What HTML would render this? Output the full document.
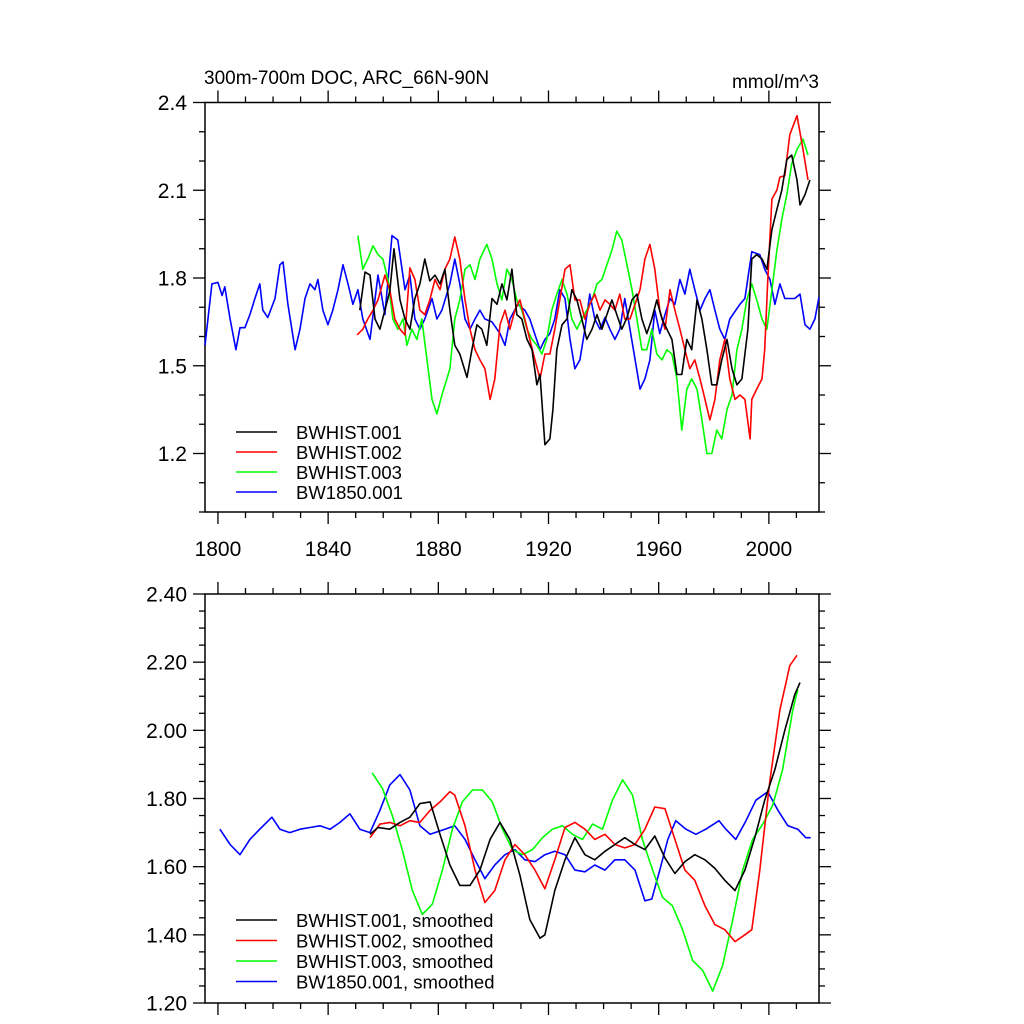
<!DOCTYPE html>
<html><head><meta charset="utf-8"><style>
html,body{margin:0;padding:0;background:#fff;}
svg{display:block;font-family:"Liberation Sans",sans-serif;}
</style></head><body>
<svg id="chart" width="1024" height="1024" viewBox="0 0 1024 1024"></svg>
<script>
// ---- data: top panel (raw annual) ----
const blueYears=[1795.3,1797.8,1800,1801.5,1802.5,1804.4,1806.5,1808,1809.8,1811.6,1813.4,1815.2,1816.3,1818.1,1820.7,1822.5,1823.6,1825.4,1828,1829.8,1831.6,1833.4,1835.2,1836.3,1838.1,1839.9,1841.7,1843.6,1845.4,1847.2,1849,1850.8,1852.6,1855.2,1858.1,1860.6,1863.2,1865.3,1867.9,1869.7,1871.5,1873.3,1875.1,1877.7,1879.5,1881.3,1884.2,1886,1887.8,1889.7,1891.5,1893.3,1895.1,1896.9,1899.5,1902.4,1904.2,1906,1908.9,1911.4,1913.2,1916.9,1918.7,1920.5,1922.3,1924.1,1926,1927.8,1929.6,1931.4,1933.2,1935,1936.8,1938.7,1940.5,1942.3,1944.1,1945.9,1947.7,1949.6,1953.2,1955,1956.8,1958.6,1960.4,1962.3,1964.1,1965.9,1967.7,1969.5,1971.3,1973.1,1975,1976.8,1978.6,1980.4,1982.2,1984,1985.8,1989.5,1991.3,1993.8,1996.7,1998.5,2000.4,2002.2,2004,2005.8,2007.6,2009.4,2011.3,2013.1,2014.9,2016.7,2018.2];
const blueVals=[1.57,1.78,1.785,1.74,1.77,1.66,1.555,1.63,1.63,1.675,1.73,1.78,1.69,1.665,1.73,1.845,1.855,1.71,1.555,1.625,1.73,1.78,1.76,1.795,1.69,1.64,1.69,1.76,1.845,1.78,1.71,1.76,1.66,1.59,1.81,1.675,1.945,1.93,1.76,1.81,1.66,1.625,1.66,1.73,1.66,1.69,1.78,1.865,1.78,1.66,1.625,1.66,1.69,1.66,1.65,1.61,1.57,1.66,1.71,1.69,1.66,1.555,1.59,1.61,1.66,1.76,1.73,1.59,1.49,1.52,1.625,1.745,1.66,1.625,1.665,1.625,1.59,1.625,1.73,1.625,1.42,1.455,1.52,1.69,1.61,1.675,1.73,1.71,1.795,1.745,1.83,1.76,1.69,1.73,1.76,1.69,1.625,1.59,1.66,1.71,1.73,1.89,1.88,1.83,1.795,1.71,1.78,1.73,1.73,1.73,1.745,1.64,1.625,1.66,1.735];
const blackYears=[1851.5,1853.4,1855.2,1857,1858.8,1860.6,1862.4,1863.9,1866.1,1867.9,1869.7,1871.5,1873.3,1875.1,1876.9,1878.8,1880.6,1882.4,1884.2,1886,1887.8,1890.4,1892.2,1894,1895.8,1897.6,1899.5,1901.3,1903.1,1904.9,1906.7,1908.5,1910.3,1912.2,1914,1915.8,1916.9,1918.7,1920.5,1921.6,1923,1924.9,1926.7,1928.5,1930.3,1932.1,1933.9,1935.8,1937.6,1939.4,1941.2,1943,1944.8,1946.6,1948.5,1950.3,1952.1,1953.9,1955.7,1957.5,1959.3,1961.2,1963,1964.8,1966.6,1968.4,1970.2,1972,1973.9,1975.7,1977.5,1979.3,1981.1,1982.9,1984.8,1986.6,1988.4,1990.2,1992.4,1993.8,1995.6,1997.5,1999.3,2001.1,2002.9,2004.7,2006.5,2008.3,2010.2,2011.3,2013.1,2014.9];
const blackVals=[1.69,1.82,1.81,1.66,1.625,1.69,1.755,1.90,1.725,1.66,1.625,1.73,1.78,1.865,1.79,1.81,1.78,1.83,1.69,1.57,1.54,1.46,1.555,1.64,1.625,1.57,1.73,1.71,1.78,1.725,1.83,1.675,1.66,1.59,1.555,1.435,1.47,1.23,1.25,1.35,1.555,1.64,1.66,1.76,1.725,1.66,1.59,1.625,1.675,1.625,1.675,1.725,1.675,1.625,1.665,1.725,1.745,1.66,1.61,1.66,1.725,1.66,1.625,1.59,1.47,1.47,1.59,1.555,1.725,1.66,1.555,1.435,1.435,1.52,1.59,1.49,1.435,1.455,1.625,1.865,1.88,1.865,1.83,1.965,2.035,2.10,2.205,2.22,2.135,2.05,2.085,2.135];
const redYears=[1850.5,1852.6,1854.4,1856.3,1858.1,1860.6,1862.4,1864.2,1866.1,1867.9,1869.7,1871.5,1873.3,1875.1,1876.9,1878.8,1880.6,1882.4,1884.2,1886,1887.8,1889.7,1891.5,1893.3,1895.1,1896.9,1898.8,1900.5,1902.4,1904.2,1906,1907.8,1909.6,1911.4,1913.2,1915.1,1916.9,1918.7,1920.5,1922.3,1924.1,1926,1927.8,1929.6,1931.4,1933.2,1935,1936.8,1938.7,1940.5,1942.3,1944.1,1945.9,1947.7,1949.6,1953.2,1955,1956.8,1958.6,1960.4,1962.3,1964.1,1965.9,1967.7,1969.5,1971.3,1973.1,1975,1976.8,1978.6,1980.4,1982.2,1984,1985.8,1987.7,1989.5,1991.3,1993.2,1993.8,1995.6,1997.5,1998.5,1999.6,2001.1,2002.9,2004,2005.8,2007.6,2010.2,2012.4,2014.2];
const redVals=[1.605,1.625,1.66,1.69,1.725,1.81,1.76,1.66,1.625,1.605,1.835,1.795,1.69,1.675,1.725,1.795,1.76,1.83,1.865,1.94,1.865,1.725,1.625,1.555,1.52,1.49,1.385,1.455,1.64,1.69,1.625,1.69,1.725,1.66,1.59,1.52,1.455,1.54,1.54,1.625,1.725,1.83,1.845,1.725,1.725,1.66,1.71,1.745,1.69,1.725,1.71,1.69,1.745,1.66,1.66,1.76,1.865,1.915,1.83,1.69,1.625,1.76,1.69,1.625,1.555,1.49,1.52,1.455,1.385,1.315,1.385,1.52,1.59,1.455,1.385,1.40,1.385,1.25,1.385,1.42,1.455,1.555,1.795,2.07,2.10,2.145,2.15,2.29,2.355,2.24,2.135];
const greenYears=[1850.8,1852.6,1854.4,1856.3,1858.1,1859.9,1861.7,1863.5,1865.3,1867.2,1868.6,1870.4,1872.2,1874,1875.9,1877.7,1879.5,1881.3,1883.1,1884.2,1886,1887.8,1889.7,1891.5,1893.3,1895.1,1897.6,1899.5,1901.3,1903.1,1904.9,1906.7,1908.5,1910.3,1912.2,1914,1915.8,1917.6,1919.4,1921.2,1923,1924.9,1926.7,1928.5,1930.3,1932.1,1933.9,1935.8,1937.6,1939.4,1941.2,1943,1944.8,1946.6,1948.5,1950.3,1952.1,1953.9,1955.7,1957.5,1959.3,1961.2,1963,1964.8,1966.6,1968.4,1970.2,1972,1973.9,1975.7,1977.5,1979.3,1981.1,1982.9,1984.8,1986.6,1988.4,1990.2,1992,1993.8,1995.6,1997.5,1999.3,2001.1,2002.9,2004.7,2006.5,2008.3,2010.2,2012.4,2014.2];
const greenVals=[1.945,1.83,1.865,1.91,1.88,1.865,1.795,1.66,1.625,1.66,1.57,1.625,1.59,1.66,1.52,1.385,1.335,1.40,1.455,1.49,1.66,1.725,1.83,1.845,1.795,1.865,1.915,1.865,1.78,1.725,1.83,1.795,1.725,1.69,1.625,1.59,1.57,1.54,1.59,1.69,1.745,1.795,1.745,1.66,1.625,1.66,1.69,1.725,1.78,1.795,1.845,1.895,1.96,1.93,1.845,1.76,1.66,1.555,1.555,1.625,1.54,1.52,1.555,1.54,1.455,1.28,1.42,1.455,1.42,1.315,1.20,1.20,1.28,1.25,1.35,1.40,1.555,1.625,1.725,1.78,1.725,1.66,1.625,1.76,1.895,2.0,2.085,2.19,2.24,2.275,2.22];
// ---- data: bottom panel (smoothed) ----
const sBlueYears=[1800.7,1804.4,1808,1811.6,1815.2,1819.6,1822.5,1826.1,1829.8,1833.4,1837,1840.7,1844.3,1847.9,1851.5,1855.2,1858.8,1862.4,1866.1,1869.7,1873.3,1877,1882.4,1886,1889.7,1893.3,1896.9,1900.5,1904.2,1907.8,1911.4,1915.1,1918.7,1922.3,1926,1929.6,1933.2,1936.8,1940.5,1944.1,1947.7,1951.4,1955,1957.5,1960.4,1963.3,1966.2,1969.9,1973.5,1977.1,1981.9,1984.4,1988,1991.7,1995.3,1999.6,2003.3,2006.9,2010.5,2013.4,2015.2];
const sBlueVals=[1.71,1.665,1.635,1.68,1.71,1.745,1.71,1.70,1.71,1.715,1.72,1.71,1.73,1.755,1.71,1.70,1.765,1.84,1.87,1.825,1.72,1.695,1.71,1.72,1.68,1.62,1.565,1.605,1.635,1.65,1.62,1.615,1.635,1.645,1.635,1.59,1.585,1.605,1.59,1.62,1.62,1.59,1.50,1.505,1.59,1.68,1.735,1.71,1.695,1.71,1.735,1.71,1.68,1.735,1.795,1.82,1.765,1.72,1.71,1.685,1.685];
const sBlackYears=[1855.2,1858.1,1862.4,1866.1,1869.7,1873.3,1877,1880.6,1884.2,1887.8,1891.5,1895.1,1898.8,1902.4,1906,1909.6,1913.2,1916.9,1918.7,1922.3,1926,1929.6,1933.2,1936.8,1940.5,1944.1,1947.7,1951.4,1955,1958.6,1962.3,1965.9,1969.5,1973.1,1976.8,1980.4,1984,1987.7,1991.3,1994.9,1998.5,2002.2,2005.8,2009.4,2011.3];
const sBlackVals=[1.695,1.715,1.71,1.73,1.745,1.785,1.79,1.695,1.605,1.545,1.545,1.59,1.68,1.73,1.68,1.575,1.445,1.39,1.40,1.53,1.62,1.685,1.635,1.62,1.645,1.665,1.685,1.665,1.65,1.69,1.625,1.58,1.615,1.635,1.62,1.595,1.56,1.53,1.59,1.685,1.795,1.885,2.00,2.105,2.14];
const sRedYears=[1855.2,1858.8,1862.4,1866.1,1869.7,1873.3,1877,1880.6,1884.2,1886,1889.7,1893.3,1896.9,1900.5,1904.2,1907.8,1911.4,1915.1,1918.7,1922.3,1926,1929.6,1933.2,1936.8,1940.5,1944.1,1947.7,1951.4,1955,1958.6,1962.3,1965.9,1969.5,1973.1,1976.8,1980.4,1984,1987.7,1991.3,1993.8,1996.7,2000.4,2004,2007.6,2010.2];
const sRedVals=[1.685,1.725,1.73,1.72,1.735,1.73,1.765,1.79,1.82,1.81,1.72,1.59,1.495,1.53,1.62,1.665,1.635,1.59,1.535,1.62,1.715,1.73,1.71,1.68,1.695,1.665,1.655,1.665,1.71,1.775,1.77,1.68,1.59,1.56,1.485,1.43,1.415,1.38,1.40,1.415,1.59,1.855,2.06,2.19,2.22];
const sGreenYears=[1856,1859.7,1863.3,1866.9,1870.6,1874.2,1877.8,1881.5,1885.1,1888.7,1892.4,1896,1899.6,1903.3,1906.9,1910.5,1914.2,1917.8,1921.4,1925.1,1928.7,1932.3,1936,1939.6,1943.2,1946.9,1950.5,1954.1,1957.8,1961.4,1965,1968.7,1972.3,1976,1979.6,1983.2,1986.9,1990.5,1994.1,1997.8,2001.4,2005,2008.7,2010.5];
const sGreenVals=[1.875,1.83,1.75,1.65,1.53,1.46,1.49,1.59,1.71,1.79,1.825,1.825,1.79,1.71,1.65,1.635,1.65,1.685,1.71,1.72,1.695,1.68,1.725,1.71,1.795,1.855,1.81,1.68,1.59,1.51,1.485,1.415,1.325,1.295,1.235,1.31,1.445,1.59,1.68,1.725,1.78,1.885,2.06,2.12];

const NS="http://www.w3.org/2000/svg";
const svg=document.getElementById('chart');
function el(tag,attrs,parent){const e=document.createElementNS(NS,tag);for(const k in attrs)e.setAttribute(k,attrs[k]);(parent||svg).appendChild(e);return e;}
const X0=205,X1=819,YR0=1795.3,YR1=2018.2;
function xs(yr){return X0+(yr-YR0)/(YR1-YR0)*(X1-X0);}
function makeY(t,b,vmin,vmax){return v=>b-(v-vmin)/(vmax-vmin)*(b-t);}

function panel(name,pTop,pBot,vmin,vmax,majorStep,minorStep,fmt,xlabels){
  const g=el('g',{});
  
  
  const ys=makeY(pTop,pBot,vmin,vmax);
  const st={stroke:'#000','stroke-width':1.3};
  const fr=el('rect',{x:X0,y:pTop,width:X1-X0,height:pBot-pTop,fill:'none',stroke:'#000','stroke-width':1.5},g);
  
  
  const nMin=Math.round((vmax-vmin)/minorStep);
  for(let i=0;i<=nMin;i++){
    const v=vmin+i*minorStep;const y=ys(v);
    const r=v/majorStep;
    const isMaj=Math.abs(r-Math.round(r))<1e-6;
    const L=isMaj?12:6;
    el('line',Object.assign({x1:X0-L,x2:X0,y1:y,y2:y},st),g);
    el('line',Object.assign({x1:X1,x2:X1+L,y1:y,y2:y},st),g);
    if(isMaj){
      const t=el('text',{x:X0-18,y:y+7.5,'text-anchor':'end','font-size':21,fill:'#000'},g);
      t.textContent=v.toFixed(fmt);
      
      
    }
  }
  for(let yr=1800;yr<=2010;yr+=10){
    const x=xs(yr);const isMaj=(yr-1800)%40===0;const L=isMaj?12:6;
    el('line',Object.assign({x1:x,x2:x,y1:pBot,y2:pBot+L},st),g);
    el('line',Object.assign({x1:x,x2:x,y1:pTop-L,y2:pTop},st),g);
    if(isMaj&&xlabels){
      const t=el('text',{x:x,y:pBot+44,'text-anchor':'middle','font-size':21,fill:'#000'},g);
      t.textContent=String(yr);
      
      
    }
  }
  return {g:g,ys:ys};
}
function series(p,name,years,vals,color){
  const d=years.map((yr,i)=>(i?'L':'M')+xs(yr).toFixed(1)+' '+p.ys(vals[i]).toFixed(1)).join(' ');
  const path=el('path',{d:d,fill:'none',stroke:color,'stroke-width':1.6,'stroke-linejoin':'round'},p.g);
  
  
}
function legend(p,entries,x,y0,dy,name){
  const lg=el('g',{},p.g);
  
  
  entries.forEach((e,i)=>{
    const y=y0+i*dy;
    el('line',{x1:x,x2:x+41,y1:y,y2:y,stroke:e[1],'stroke-width':1.6},lg);
    const t=el('text',{x:x+60,y:y+7,'font-size':18.5,fill:'#000'},lg);
    t.textContent=e[0];
    
    
  });
}
const topPanel=panel('top-panel',102.5,512,1.0,2.4,0.3,0.1,1,true);
series(topPanel,'bw1850-001-line',blueYears,blueVals,'#0000ff');
series(topPanel,'bwhist-003-line',greenYears,greenVals,'#00ff00');
series(topPanel,'bwhist-002-line',redYears,redVals,'#ff0000');
series(topPanel,'bwhist-001-line',blackYears,blackVals,'#000000');
legend(topPanel,[['BWHIST.001','#000'],['BWHIST.002','#f00'],['BWHIST.003','#0f0'],['BW1850.001','#00f']],236,432,20,'top-legend');
const tt=el('text',{x:204,y:84,'font-size':19,fill:'#000'});
tt.textContent='300m-700m DOC, ARC_66N-90N';


const tu=el('text',{x:819,y:88,'font-size':19,'text-anchor':'end',fill:'#000'});
tu.textContent='mmol/m^3';



const botPanel=panel('bottom-panel',594,1003,1.2,2.4,0.2,0.05,2,false);
series(botPanel,'bw1850-001-smoothed-line',sBlueYears,sBlueVals,'#0000ff');
series(botPanel,'bwhist-003-smoothed-line',sGreenYears,sGreenVals,'#00ff00');
series(botPanel,'bwhist-002-smoothed-line',sRedYears,sRedVals,'#ff0000');
series(botPanel,'bwhist-001-smoothed-line',sBlackYears,sBlackVals,'#000000');
legend(botPanel,[['BWHIST.001, smoothed','#000'],['BWHIST.002, smoothed','#f00'],['BWHIST.003, smoothed','#0f0'],['BW1850.001, smoothed','#00f']],236,920,20.5,'bottom-legend');
</script>
</body></html>
